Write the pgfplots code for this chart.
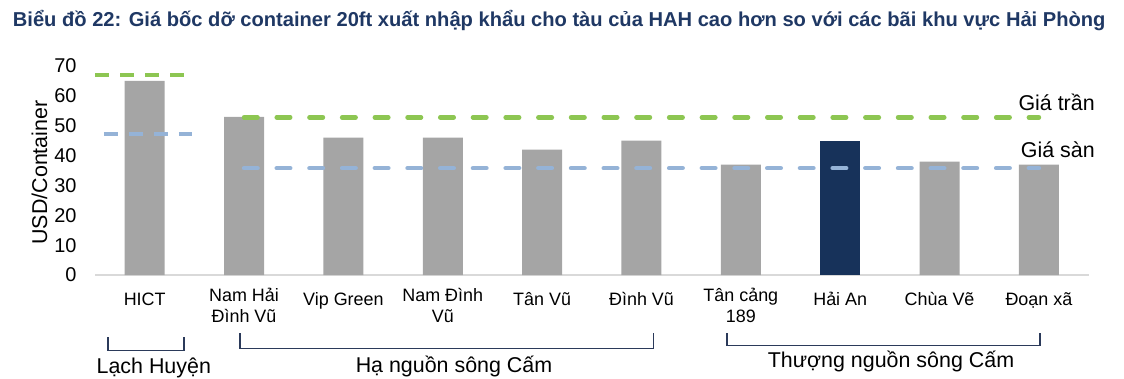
\documentclass[border=0pt]{standalone}
\usepackage{pgfplots}
\pgfplotsset{compat=1.18}
\usepackage{fontspec}
\setmainfont{Liberation Sans}
\definecolor{barGray}{HTML}{A5A5A5}
\definecolor{barNavy}{HTML}{17325A}
\definecolor{ceilGreen}{HTML}{8DC652}
\definecolor{floorBlue}{HTML}{95B3D7}
\definecolor{titleBlue}{HTML}{1F3864}
\definecolor{brk}{HTML}{2B3A5A}
\definecolor{axGray}{HTML}{D9D9D9}
\begin{document}
\begin{tikzpicture}[x=1bp,y=1bp]
\path[use as bounding box] (0,0) rectangle (1124,-378);
\node[anchor=base west, inner sep=0, text=titleBlue, font=\fontsize{20.2}{24}\selectfont\bfseries] at (12.7,-26.5)
  {Biểu đồ 22: Giá bốc dỡ container 20ft xuất nhập khẩu cho tàu của HAH cao hơn so với các bãi khu vực Hải Phòng};
\begin{axis}[
  at={(95bp,-275bp)}, anchor=south west,
  scale only axis, width=993.6bp, height=209bp,
  xmin=-0.5, xmax=9.5, ymin=0, ymax=70,
  clip=false,
  axis lines*=left,
  y axis line style={draw=none},
  x axis line style={draw=axGray, line width=1.5bp},
  major tick length=0pt,
  ytick={0,10,...,70},
  xtick={0,...,9},
  xticklabels={HICT,{Nam Hải\\Đình Vũ},Vip Green,{Nam Đình\\Vũ},Tân Vũ,Đình Vũ,{Tân cảng\\189},Hải An,Chùa Vẽ,Đoạn xã},
  /pgf/number format/assume math mode=true,
  yticklabel style={font=\fontsize{20}{24}\selectfont, anchor=east, xshift=-15bp},
  xticklabel style={font=\fontsize{18}{21}\selectfont, align=center, anchor=north, inner sep=0pt,
    execute at begin node={\rule{0pt}{17bp}}, yshift=-13bp},
]
\addplot[ybar, bar width=40bp, bar shift=0pt, fill=barGray, draw=none] coordinates {(0,65) (1,53) (2,46) (3,46) (4,42) (5,45) (6,37) (8,38) (9,37)};
\addplot[ybar, bar width=40bp, bar shift=0pt, fill=barNavy, draw=none] coordinates {(7,45)};
\addplot[ceilGreen, line width=4.5bp, dash pattern=on 14bp off 11bp] coordinates {(-0.5,67) (0.42,67)};
\addplot[floorBlue, line width=4.5bp, dash pattern=on 14bp off 11bp] coordinates {(-0.41,47.2) (0.48,47.2)};
\addplot[ceilGreen, line width=4.5bp, line cap=round, dash pattern=on 13.5bp off 19.2bp] coordinates {(1,52.8) (9,52.8)};
\addplot[floorBlue, line width=4.5bp, line cap=round, dash pattern=on 13.5bp off 19.2bp] coordinates {(1,35.8) (9,35.8)};
\end{axis}
\node[rotate=90, inner sep=0, font=\fontsize{21.5}{24}\selectfont] at (39.5,-172.5) {USD/Container};
\node[anchor=base west, inner sep=0, font=\fontsize{21.5}{24}\selectfont] at (1018.3,-110) {Giá trần};
\node[anchor=base west, inner sep=0, font=\fontsize{21.5}{24}\selectfont] at (1020.7,-157) {Giá sàn};
\draw[brk, line width=1.6bp] (107.7,-337) -- (107.7,-350.3) -- (184,-350.3) -- (184,-337);
\draw[brk, line width=1.6bp] (240,-333) -- (240,-348.3) -- (653.5,-348.3) -- (653.5,-333);
\draw[brk, line width=1.6bp] (726.7,-333) -- (726.7,-345.5) -- (1040,-345.5) -- (1040,-333);
\node[anchor=base, inner sep=0, font=\fontsize{21.5}{24}\selectfont] at (153.8,-373) {Lạch Huyện};
\node[anchor=base, inner sep=0, font=\fontsize{21.5}{24}\selectfont] at (454,-372) {Hạ nguồn sông Cấm};
\node[anchor=base, inner sep=0, font=\fontsize{21.5}{24}\selectfont] at (891,-367.5) {Thượng nguồn sông Cấm};
\end{tikzpicture}
\end{document}
